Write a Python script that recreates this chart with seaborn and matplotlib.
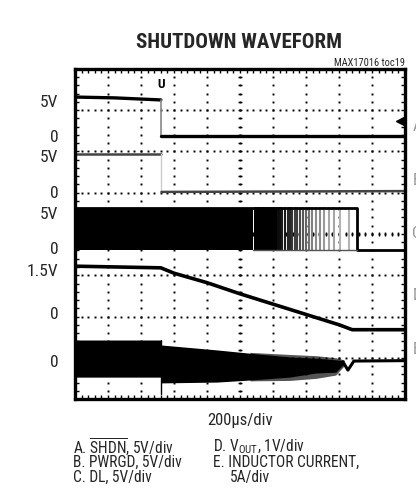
import numpy as np
import pandas as pd
import matplotlib
matplotlib.use("Agg")
import matplotlib.pyplot as plt
import seaborn as sns

# scope traces, x in divisions (200us/div), y in divisions from bottom of screen
A_T = [0.0, 1.2, 2.6, 2.6, 10.0]          # SHDN
A_V = [7.32, 7.30, 7.25, 6.38, 6.38]
B_T = [0.0, 2.62, 2.62, 10.0]             # PWRGD
B_V = [5.94, 5.94, 5.02, 5.04]
C_T = [0.0, 5.4, 8.55, 8.55, 10.0]        # DL
C_V = [4.63, 4.63, 4.63, 3.62, 3.62]
C_LOW = 3.61
C_PULSES = [5.45, 5.5, 5.54, 5.58, 5.62, 5.66, 5.7, 5.75, 5.8, 5.86, 5.9, 5.96,
            6.02, 6.08, 6.15, 6.22, 6.28, 6.36, 6.44, 6.5, 6.58, 6.66, 6.74,
            6.82, 6.9, 7.0, 7.1, 7.18, 7.3, 7.42, 7.55, 7.7, 7.86, 8.02, 8.3]
C_SHADE = [1, 1, 1, 1, 1, 1, 1, 1, 1, 1, 1, 1, 1, 1, 0.95, 0.95, 0.9, 0.9,
           0.85, 0.85, 0.8, 0.75, 0.75, 0.7, 0.65, 0.6, 0.55, 0.5, 0.45, 0.45,
           0.4, 0.35, 0.35, 0.3, 0.3]
D_T = [0.0, 2.6, 3.0, 4.0, 5.0, 6.0, 7.0, 8.0, 8.4, 10.0]   # VOUT
D_V = [3.22, 3.18, 3.05, 2.82, 2.55, 2.30, 2.05, 1.80, 1.68, 1.68]
E_T = [0.0, 2.6, 2.6, 4.3, 5.3, 6.5, 7.3, 7.9, 8.15]        # inductor current band
E_TOP = [1.43, 1.43, 1.31, 1.19, 1.11, 1.02, 0.99, 0.95, 0.93]
E_BOT = [0.53, 0.53, 0.39, 0.41, 0.46, 0.53, 0.63, 0.65, 0.85]
E_RAG_T = [5.3, 6.5, 7.3, 7.9, 8.15]                        # ragged outer spikes
E_RAG_TOP = [1.13, 1.08, 1.05, 1.00, 0.95]
E_RAG_BOT = [0.44, 0.45, 0.50, 0.58, 0.80]
E_TAIL_T = [8.12, 8.27, 8.45, 10.0]
E_TAIL_V = [0.90, 0.70, 0.92, 0.93]

Y_TICKS = [7.22, 6.38, 5.89, 5.02, 4.51, 3.66, 3.13, 2.08, 0.92]
Y_LABELS = ["5V", "0", "5V", "0", "5V", "0", "1.5V", "0", "0"]
CH_NAMES = ["A", "B", "C", "D", "E"]
CH_Y = [6.6, 5.3, 4.0, 2.5, 1.2]

sns.set_theme(style="white")
plt.rcParams["font.family"] = ["Roboto Condensed", "DejaVu Sans"]
plt.rcParams["mathtext.fontset"] = "custom"
plt.rcParams["mathtext.rm"] = "Roboto Condensed"

fig = plt.figure(figsize=(4.16, 4.98), dpi=100)
ax = fig.add_axes([75 / 416, 99 / 498, 330 / 416, 330 / 498])
ax.set_xlim(0, 10)
ax.set_ylim(0, 8)

# graticule
for i in range(1, 10):
    ax.plot(np.full(41, i), np.arange(0, 8.01, 0.2), ls="none", marker="s",
            ms=1.4, color="black", mew=0)
for j in range(1, 8):
    ax.plot(np.arange(0, 10.01, 0.2), np.full(51, j), ls="none", marker="s",
            ms=1.4, color="black", mew=0)
ax.plot(np.full(41, 5), np.arange(0, 8.01, 0.2), ls="none", marker="_",
        ms=3.5, mew=1.0, color="black")
ax.plot(np.arange(0, 10.01, 0.2), np.full(51, 4), ls="none", marker="|",
        ms=3.5, mew=1.0, color="black")

kw = dict(ax=ax, sort=False, estimator=None)
# A trace
sns.lineplot(x=A_T[:3], y=A_V[:3], color="black", lw=2.4, **kw)
sns.lineplot(x=A_T[2:4], y=A_V[2:4], color="#888888", lw=1.2, **kw)
sns.lineplot(x=A_T[3:], y=A_V[3:], color="black", lw=2.4, **kw)

# B trace
sns.lineplot(x=B_T[:2], y=B_V[:2], color="#444444", lw=1.8, **kw)
sns.lineplot(x=B_T[1:3], y=B_V[1:3], color="#cccccc", lw=1.0, **kw)
sns.lineplot(x=B_T[2:], y=B_V[2:], color="#444444", lw=1.8, **kw)

# C trace (DL switching)
ax.fill_between(C_T[:2], C_LOW, C_V[:2], color="black", lw=0)
for p, s in zip(C_PULSES, C_SHADE):
    ax.plot([p, p], [C_LOW, C_V[0]], color=str(1 - s), lw=1.5)
sns.lineplot(x=C_T, y=C_V, color="black", lw=2.0, **kw)
ax.plot([C_T[1], C_T[2]], [C_LOW, C_LOW], color="#555555", lw=1.0)

# D trace
sns.lineplot(x=D_T, y=D_V, color="black", lw=2.6, **kw)

# E trace
ax.fill_between(E_RAG_T, E_RAG_BOT, E_RAG_TOP, color="#555555", lw=0)
ax.fill_between(E_T, E_BOT, E_TOP, color="black", lw=0)
ax.plot([2.6, 2.6], [0.12, 1.43], color="black", lw=1.0)
sns.lineplot(x=E_TAIL_T, y=E_TAIL_V, color="black", lw=2.2, **kw)

# trigger markers
ax.text(2.6, 7.62, "U", ha="center", va="center", fontsize=9.5, fontweight="bold",
        color="black")
ax.plot(9.85, 6.74, marker="<", ms=6, color="black")

ax.set_xticks([])
ax.set_xticks(np.arange(0, 10.01, 0.2), minor=True)
ax.set_yticks(Y_TICKS)
ax.set_yticklabels(Y_LABELS)
ax.set_yticks(np.arange(0, 8.01, 0.2), minor=True)
ax.tick_params(axis="y", which="major", length=0, pad=12, labelsize=12.5)
ax.tick_params(which="minor", direction="in", length=3, width=1, top=True,
               right=True, bottom=True, left=True, color="black")
for sp in ax.spines.values():
    sp.set_color("black")
    sp.set_linewidth(2.4)
ax.set_xlabel("")
ax.set_ylabel("")

fig.text(239 / 416, 1 - 42 / 498, "SHUTDOWN WAVEFORM", ha="center", va="center",
         fontsize=15, fontweight="bold")
fig.text(405 / 416, 1 - 63 / 498, "MAX17016 toc19", ha="right", va="center",
         fontsize=7.5)
fig.text(240 / 416, 1 - 420 / 498, "200\u00b5s/div", ha="center", va="center",
         fontsize=12)
for name, yv in zip(CH_NAMES, CH_Y):
    ax.text(10.22, yv, name, ha="left", va="center", fontsize=12,
            color="#999999", clip_on=False)

legend_left = ["A. $\\overline{\\mathrm{SHDN}}$, 5V/div", "B. PWRGD, 5V/div", "C. DL, 5V/div"]
legend_right = ["D. V$_{\\mathrm{OUT}}$, 1V/div", "E. INDUCTOR CURRENT,", "5A/div"]
for k, (l, r) in enumerate(zip(legend_left, legend_right)):
    yy = 1 - (447 + 15 * k) / 498
    fig.text(73 / 416, yy, l, ha="left", va="center", fontsize=11.2)
    fig.text((230 if k == 2 else 213) / 416, yy, r, ha="left", va="center", fontsize=11.2)

fig.savefig("out.png", dpi=100)
